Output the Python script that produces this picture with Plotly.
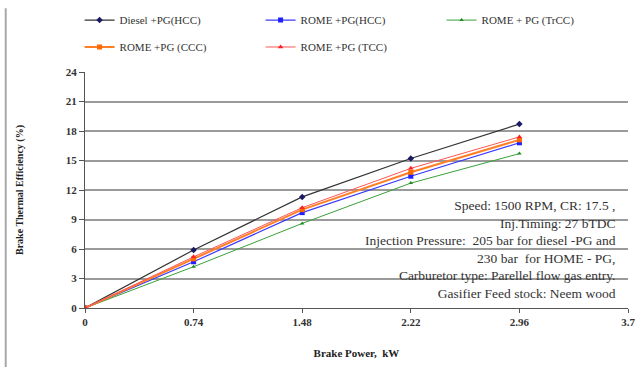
import plotly.graph_objects as go

bp = [0, 0.74, 1.48, 2.22, 2.96]
diesel_hcc = [0, 5.9, 11.3, 15.2, 18.7]
rome_hcc = [0, 4.7, 9.7, 13.4, 16.8]
rome_trcc = [0, 4.2, 8.6, 12.7, 15.7]
rome_ccc = [0, 5.0, 10.0, 13.8, 17.1]
rome_tcc = [0, 5.2, 10.2, 14.2, 17.4]

x_ticks = [0, 0.74, 1.48, 2.22, 2.96, 3.7]
x_tick_text = ["0", "0.74", "1.48", "2.22", "2.96", "3.7"]
y_ticks = [0, 3, 6, 9, 12, 15, 18, 21, 24]

SERIF = "Liberation Serif"

series = [
    ("Diesel +PG(HCC)", diesel_hcc, "#333333", "#1a1a66", "diamond", 5, 1.2, "legend"),
    ("ROME +PG(HCC)", rome_hcc, "#3a3aff", "#1f1fff", "square", 5, 1.2, "legend"),
    ("ROME + PG (TrCC)", rome_trcc, "#3aa03a", "#1e8c1e", "triangle-up", 4, 1.0, "legend"),
    ("ROME +PG (CCC)", rome_ccc, "#ff7f27", "#ff6a00", "square", 5, 2.0, "legend2"),
    ("ROME +PG (TCC)", rome_tcc, "#ff5555", "#ff2020", "triangle-up", 5, 1.0, "legend2"),
]

fig = go.Figure()
for name, ys, lc, mc, sym, ms, lw, lg in series:
    fig.add_trace(go.Scatter(
        x=bp, y=ys, name=name, mode="lines+markers", legend=lg,
        line=dict(color=lc, width=lw),
        marker=dict(color=mc, symbol=sym, size=ms),
    ))

note = ("Speed: 1500 RPM, CR: 17.5 ,<br>Inj.Timing: 27 bTDC<br>"
        "Injection Pressure:  205 bar for diesel -PG and<br>230 bar  for HOME - PG,<br>"
        "Carburetor type: Parellel flow gas entry.<br>Gasifier Feed stock: Neem wood")
fig.add_annotation(x=3.635, y=11.4, xref="x", yref="y", text=note, showarrow=False,
                   xanchor="right", yanchor="top", align="right",
                   font=dict(family=SERIF, size=13.5, color="#333333"))

fig.add_shape(type="line", xref="paper", yref="paper", x0=-0.146, x1=-0.146, y0=-0.25, y1=1.27,
              line=dict(color="#a8a8a8", width=2))

leg_common = dict(orientation="h", x=-0.01, xanchor="left", yanchor="middle",
                  font=dict(size=11, family=SERIF, color="#333333"),
                  entrywidth=136, itemwidth=30, bgcolor="rgba(0,0,0,0)")

fig.update_layout(
    width=641, height=370,
    margin=dict(l=85, r=13, t=72, b=62, autoexpand=False),
    paper_bgcolor="white", plot_bgcolor="white",
    font=dict(family=SERIF, color="#222222"),
    legend=dict(y=1.22, **leg_common),
    legend2=dict(y=1.106, **leg_common),
    xaxis=dict(range=[0, 3.7], tickvals=x_ticks, ticktext=x_tick_text, showgrid=False,
               showline=True, linecolor="#555555", linewidth=1, ticks="outside", ticklen=4,
               tickcolor="#555555", tickfont=dict(size=11, family=SERIF, color="#333333", weight="bold"),
               title=dict(text="Brake Power,  kW", font=dict(size=11, family=SERIF, weight="bold"), standoff=22),
               zeroline=False),
    yaxis=dict(range=[0, 24], tickvals=y_ticks, showgrid=True, gridcolor="#9a9a9a", gridwidth=1.5,
               showline=True, linecolor="#555555", linewidth=1, ticks="outside", ticklen=5,
               tickcolor="#555555", tickfont=dict(size=11, family=SERIF, color="#333333", weight="bold"),
               title=dict(text="Brake Thermal Efficiency (%)", font=dict(size=10, family=SERIF, weight="bold"), standoff=40),
               zeroline=False),
)

fig.write_html("out.html")
